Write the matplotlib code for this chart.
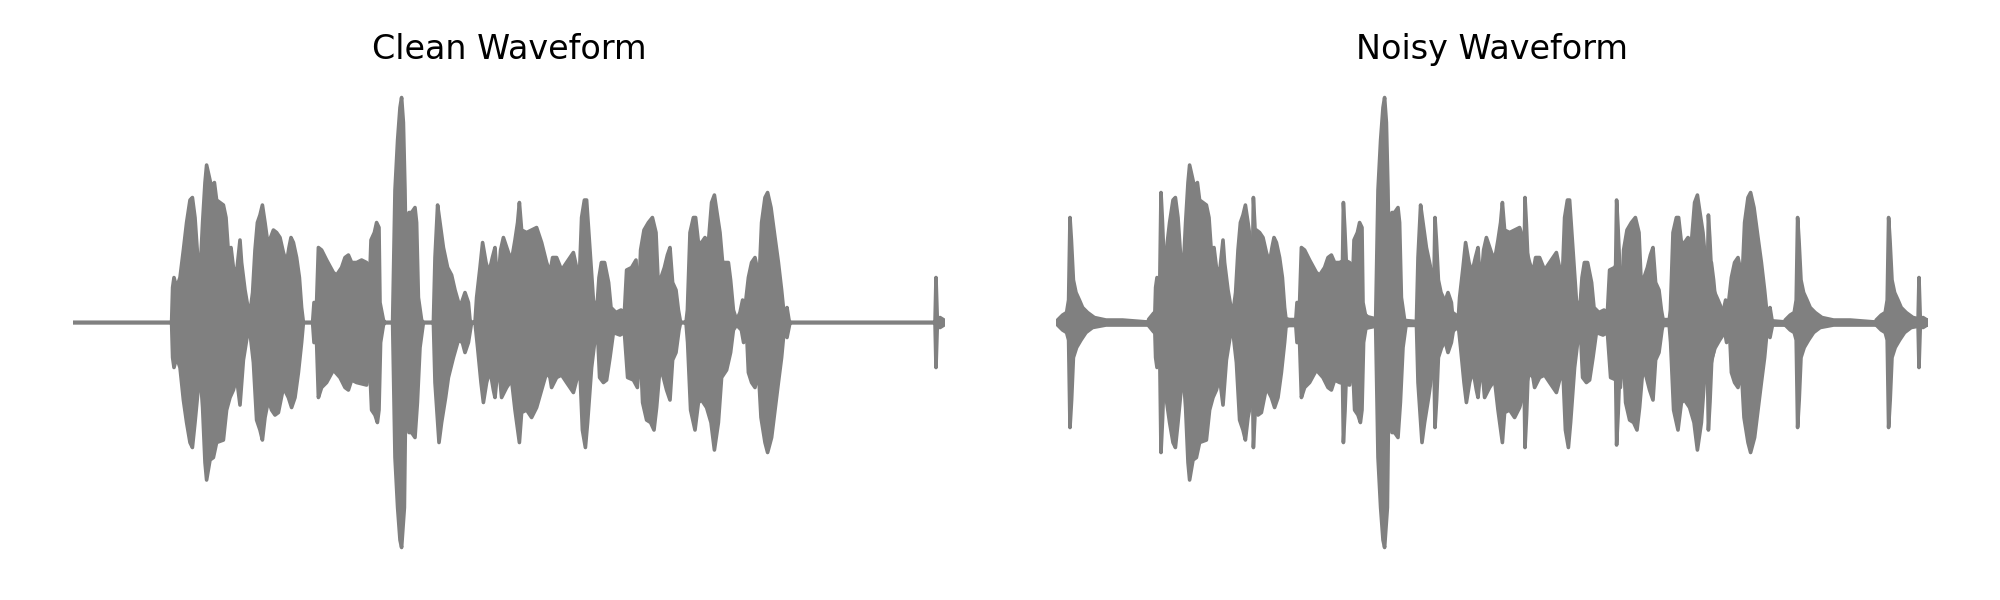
import numpy as np
import matplotlib
matplotlib.use('Agg')
import matplotlib.pyplot as plt

plt.rcParams["font.family"] = "DejaVu Sans"

# Clean take: amplitude envelope (time in s, amplitude)
clean_up_t = [0.0, 0.493, 0.498, 0.505, 0.518, 0.535, 0.552, 0.568, 0.585, 0.597, 0.610, 0.627, 0.635, 0.648,
              0.660, 0.668, 0.682, 0.693, 0.707, 0.718, 0.735, 0.752, 0.765, 0.777, 0.790, 0.802, 0.818, 0.835,
              0.843, 0.860, 0.877, 0.885, 0.898, 0.910, 0.922, 0.935, 0.947, 0.960, 0.977, 0.988, 1.002, 1.018,
              1.035, 1.052, 1.068, 1.080, 1.090, 1.102, 1.118, 1.132, 1.143, 1.152, 1.198, 1.205, 1.218, 1.227,
              1.243, 1.268, 1.302, 1.318, 1.343, 1.360, 1.377, 1.393, 1.418, 1.443, 1.468, 1.480, 1.490, 1.507,
              1.518, 1.530, 1.535, 1.552, 1.560, 1.598, 1.610, 1.623, 1.635, 1.643, 1.652, 1.660, 1.668, 1.680,
              1.693, 1.710, 1.718, 1.727, 1.743, 1.752, 1.802, 1.810, 1.823, 1.835, 1.852, 1.873, 1.893, 1.910,
              1.935, 1.943, 1.960, 1.977, 1.985, 1.993, 2.010, 2.018, 2.035, 2.048, 2.065, 2.080, 2.097, 2.110,
              2.123, 2.138, 2.152, 2.177, 2.193, 2.210, 2.223, 2.232, 2.243, 2.268, 2.293, 2.318, 2.343, 2.368,
              2.385, 2.398, 2.418, 2.443, 2.468, 2.485, 2.502, 2.518, 2.530, 2.543, 2.557, 2.568, 2.585, 2.602,
              2.618, 2.630, 2.642, 2.658, 2.678, 2.690, 2.715, 2.740, 2.757, 2.768, 2.793, 2.815, 2.827, 2.838,
              2.855, 2.877, 2.897, 2.915, 2.927, 2.940, 2.957, 2.972, 2.985, 2.998, 3.015, 3.027, 3.038, 3.065,
              3.072, 3.085, 3.102, 3.113, 3.127, 3.143, 3.160, 3.177, 3.193, 3.207, 3.218, 3.235, 3.248, 3.260,
              3.277, 3.288, 3.302, 3.318, 3.335, 3.348, 3.360, 3.377, 3.393, 3.410, 3.423, 3.430, 3.443, 3.460,
              3.473, 3.490, 3.510, 3.527, 3.543, 3.557, 3.563, 3.570, 3.580, 3.585, 4.310, 4.315, 4.322, 4.335,
              4.355, 4.360]
clean_up_a = [0.0, 0.0, 0.14, 0.18, 0.14, 0.18, 0.29, 0.40, 0.49, 0.50, 0.42, 0.22, 0.19, 0.40,
              0.56, 0.63, 0.58, 0.54, 0.56, 0.49, 0.48, 0.47, 0.42, 0.28, 0.30, 0.22, 0.20, 0.33,
              0.24, 0.13, 0.05, 0.04, 0.12, 0.29, 0.40, 0.43, 0.47, 0.40, 0.30, 0.34, 0.37, 0.36,
              0.34, 0.28, 0.24, 0.30, 0.34, 0.32, 0.26, 0.18, 0.06, 0.0, 0.0, 0.08, 0.08, 0.30,
              0.29, 0.25, 0.20, 0.19, 0.22, 0.26, 0.27, 0.24, 0.24, 0.25, 0.24, 0.10, 0.33, 0.36,
              0.40, 0.38, 0.08, 0.01, 0.0, 0.0, 0.53, 0.73, 0.86, 0.90, 0.80, 0.53, 0.12, 0.44,
              0.44, 0.46, 0.40, 0.10, 0.01, 0.0, 0.0, 0.26, 0.47, 0.40, 0.30, 0.22, 0.19, 0.13,
              0.06, 0.08, 0.12, 0.08, 0.01, 0.0, 0.0, 0.10, 0.22, 0.32, 0.24, 0.20, 0.26, 0.30,
              0.14, 0.29, 0.34, 0.28, 0.25, 0.33, 0.40, 0.48, 0.37, 0.36, 0.37, 0.38, 0.32, 0.24,
              0.20, 0.26, 0.26, 0.21, 0.24, 0.26, 0.28, 0.22, 0.14, 0.42, 0.49, 0.49, 0.29, 0.09,
              0.04, 0.18, 0.24, 0.24, 0.16, 0.06, 0.04, 0.05, 0.04, 0.21, 0.22, 0.25, 0.06, 0.29,
              0.37, 0.40, 0.42, 0.36, 0.14, 0.18, 0.22, 0.27, 0.30, 0.16, 0.13, 0.05, 0.0, 0.0,
              0.05, 0.36, 0.42, 0.42, 0.32, 0.32, 0.34, 0.32, 0.48, 0.51, 0.45, 0.36, 0.24, 0.24,
              0.24, 0.17, 0.05, 0.01, 0.04, 0.09, 0.06, 0.18, 0.24, 0.26, 0.21, 0.16, 0.40, 0.50,
              0.52, 0.46, 0.34, 0.24, 0.13, 0.02, 0.0, 0.06, 0.01, 0.0, 0.0, 0.18, 0.0, 0.02,
              0.01, 0.0]

clean_lo_t = [0.0, 0.493, 0.498, 0.505, 0.518, 0.535, 0.552, 0.568, 0.585, 0.597, 0.610, 0.635, 0.648, 0.660,
              0.668, 0.685, 0.702, 0.718, 0.752, 0.768, 0.785, 0.802, 0.818, 0.835, 0.852, 0.872, 0.885, 0.902,
              0.918, 0.935, 0.947, 0.960, 0.977, 0.993, 1.010, 1.027, 1.052, 1.077, 1.093, 1.110, 1.127, 1.143,
              1.152, 1.198, 1.205, 1.218, 1.227, 1.243, 1.268, 1.302, 1.335, 1.360, 1.377, 1.393, 1.418, 1.468,
              1.480, 1.493, 1.510, 1.522, 1.530, 1.538, 1.552, 1.560, 1.598, 1.610, 1.623, 1.635, 1.643, 1.657,
              1.663, 1.668, 1.680, 1.693, 1.710, 1.722, 1.735, 1.752, 1.802, 1.810, 1.830, 1.843, 1.863, 1.877,
              1.902, 1.927, 1.947, 1.960, 1.977, 1.993, 2.010, 2.023, 2.040, 2.052, 2.068, 2.085, 2.102, 2.110,
              2.127, 2.143, 2.168, 2.193, 2.210, 2.232, 2.243, 2.268, 2.293, 2.318, 2.343, 2.368, 2.385, 2.393,
              2.418, 2.443, 2.468, 2.502, 2.518, 2.535, 2.547, 2.562, 2.573, 2.593, 2.608, 2.625, 2.633, 2.652,
              2.668, 2.685, 2.702, 2.735, 2.757, 2.773, 2.802, 2.822, 2.835, 2.848, 2.868, 2.888, 2.905, 2.918,
              2.935, 2.952, 2.968, 2.985, 2.998, 3.015, 3.030, 3.038, 3.065, 3.073, 3.088, 3.110, 3.127, 3.143,
              3.168, 3.190, 3.207, 3.227, 3.243, 3.268, 3.288, 3.302, 3.318, 3.342, 3.353, 3.368, 3.377, 3.393,
              3.410, 3.427, 3.440, 3.460, 3.473, 3.493, 3.510, 3.527, 3.543, 3.557, 3.570, 3.585, 4.310, 4.315,
              4.322, 4.335, 4.355, 4.360]
clean_lo_a = [0.0, 0.0, -0.14, -0.18, -0.14, -0.18, -0.31, -0.40, -0.48, -0.50, -0.40, -0.19, -0.34, -0.56,
              -0.63, -0.55, -0.54, -0.48, -0.47, -0.35, -0.30, -0.27, -0.22, -0.33, -0.15, -0.05, -0.04, -0.16,
              -0.39, -0.43, -0.47, -0.38, -0.31, -0.35, -0.37, -0.36, -0.26, -0.30, -0.34, -0.30, -0.20, -0.08,
              0.0, 0.0, -0.08, -0.08, -0.30, -0.26, -0.24, -0.19, -0.22, -0.26, -0.27, -0.23, -0.24, -0.25,
              -0.11, -0.35, -0.37, -0.40, -0.35, -0.08, -0.01, 0.0, 0.0, -0.54, -0.74, -0.87, -0.90, -0.74,
              -0.34, -0.12, -0.44, -0.44, -0.46, -0.32, -0.10, 0.0, 0.0, -0.24, -0.48, -0.40, -0.30, -0.22,
              -0.14, -0.07, -0.08, -0.12, -0.08, 0.0, 0.0, -0.10, -0.24, -0.32, -0.24, -0.19, -0.27, -0.30,
              -0.16, -0.30, -0.26, -0.23, -0.35, -0.48, -0.36, -0.35, -0.38, -0.34, -0.27, -0.20, -0.22, -0.26,
              -0.22, -0.21, -0.24, -0.28, -0.23, -0.20, -0.43, -0.50, -0.40, -0.18, -0.08, -0.08, -0.22, -0.24,
              -0.23, -0.14, -0.04, -0.05, -0.04, -0.22, -0.23, -0.26, -0.08, -0.32, -0.39, -0.40, -0.43, -0.34,
              -0.18, -0.22, -0.27, -0.31, -0.15, -0.12, -0.03, 0.0, 0.0, -0.08, -0.35, -0.43, -0.32, -0.31,
              -0.34, -0.40, -0.51, -0.40, -0.22, -0.19, -0.12, -0.03, -0.01, -0.03, -0.08, -0.04, -0.20, -0.24,
              -0.26, -0.19, -0.38, -0.48, -0.52, -0.46, -0.35, -0.24, -0.14, -0.02, -0.06, 0.0, 0.0, -0.18,
              0.0, -0.02, -0.01, 0.0]

# Noisy take = clean take + periodic clicks.
# Click shape read from the isolated first click (offset from its peak, peak 0.42)
click_dt_up = [-0.062, -0.037, -0.017, -0.007, 0.0, 0.007, 0.017, 0.030, 0.047, 0.063, 0.088, 0.122, 0.180, 0.263, 0.422]
click_up = [0.01, 0.03, 0.04, 0.09, 0.42, 0.33, 0.17, 0.12, 0.09, 0.06, 0.04, 0.02, 0.01, 0.01, 0.0]
click_dt_lo = [-0.062, -0.037, -0.017, -0.007, 0.0, 0.008, 0.017, 0.033, 0.055, 0.080, 0.113, 0.180, 0.263, 0.422]
click_lo = [-0.01, -0.03, -0.04, -0.07, -0.42, -0.31, -0.14, -0.10, -0.07, -0.04, -0.02, -0.01, -0.01, -0.01]
click_times = [0.070, 0.525, 0.987, 1.437, 1.895, 2.345, 2.803, 3.262, 3.708, 4.163]
click_peaks = [0.42, 0.52, 0.50, 0.48, 0.42, 0.50, 0.49, 0.43, 0.42, 0.42]

duration = 4.36
wave_color = 'gray'


def draw_envelope(ax, t_up, a_up, t_lo, a_lo):
    '''fill the band between the upper and lower edge of the waveform'''
    x = np.concatenate([np.asarray(t_up), np.asarray(t_lo)[::-1]])
    y = np.concatenate([np.asarray(a_up), np.asarray(a_lo)[::-1]])
    ax.fill(x, y, facecolor=wave_color, edgecolor=wave_color, lw=2.6, joinstyle='round', capstyle='round')


fig = plt.figure(figsize=(20, 6), dpi=100)
ax_clean = fig.add_axes([0.0365, 0.0458, 0.436, 0.8333])
ax_noisy = fig.add_axes([0.528, 0.0458, 0.436, 0.8333])

draw_envelope(ax_clean, clean_up_t, clean_up_a, clean_lo_t, clean_lo_a)

draw_envelope(ax_noisy, clean_up_t, clean_up_a, clean_lo_t, clean_lo_a)
for tc, pk in zip(click_times, click_peaks):
    s = pk / click_up[4]
    draw_envelope(ax_noisy,
                  tc + np.array(click_dt_up), s * np.array(click_up),
                  tc + np.array(click_dt_lo), s * np.array(click_lo))

for ax, title in [(ax_clean, 'Clean Waveform'), (ax_noisy, 'Noisy Waveform')]:
    ax.set_xlim(0, duration)
    ax.set_ylim(-1, 1)
    ax.axis('off')
    ax.set_title(title, fontsize=24, pad=10)

fig.savefig('out.png', dpi=100)
